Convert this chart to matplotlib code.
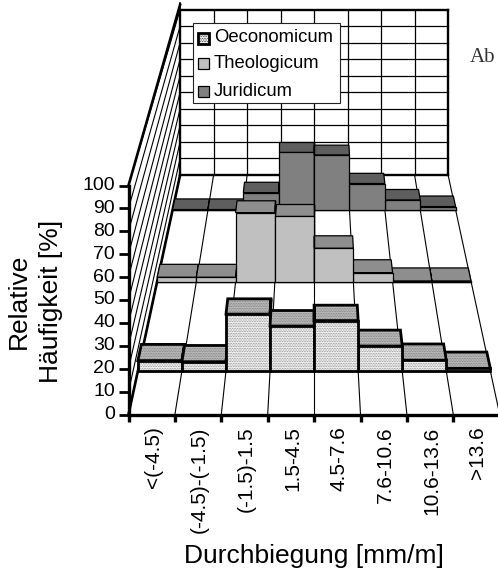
import matplotlib
matplotlib.use("Agg")
import matplotlib.pyplot as plt
from matplotlib.patches import Polygon, Rectangle

plt.rcParams['font.family'] = ['Liberation Sans', 'DejaVu Sans']
plt.rcParams['hatch.linewidth'] = 0.35

categories = ["<(-4.5)", "(-4.5)-(-1.5)", "(-1.5)-1.5", "1.5-4.5",
              "4.5-7.6", "7.6-10.6", "10.6-13.6", ">13.6"]
oeconomicum = [4.8, 4.3, 26.2, 20.7, 23.2, 11.5, 5.0, 1.2]
theologicum = [2.2, 2.2, 35.6, 33.9, 17.2, 4.6, 0.3, 0.3]
juridicum = [0.2, 0.2, 9.9, 33.2, 31.5, 15.1, 5.7, 1.9]
y_ticks = list(range(0, 101, 10))

# perspective, fitted to the picture (pixel units)
X_MID, Y_FRONT, HORIZON = 314.1, 414.5, -447.0
CELL, UNIT, PERSP = 46.4, 2.29, 0.385
BAR_DEPTH = 0.056


def proj(i, h, d):
    f = 1 / (1 + PERSP * d)
    x = X_MID + (i - 4) * CELL * f
    y = HORIZON + (Y_FRONT - HORIZON) * f - h * UNIT * f
    return (x, y)


fig = plt.figure(figsize=(4.98, 5.72), dpi=100)
ax = fig.add_axes([0, 0, 1, 1])
ax.set_xlim(0, 498)
ax.set_ylim(572, 0)
ax.axis('off')


def line(a, b, lw=0.9, z=0.5):
    ax.plot([a[0], b[0]], [a[1], b[1]], color='black', lw=lw, solid_capstyle='projecting', zorder=z)


# back wall and left wall
for t in y_ticks:
    line(proj(0, t, 1), proj(8, t, 1), 1.7 if t in (0, 100) else 0.9)
    line(proj(0, t, 0), proj(0, t, 1), 0.8)
for i in range(9):
    line(proj(i, 0, 1), proj(i, 100, 1), 1.7 if i in (0, 8) else 0.9)
    line(proj(i, 0, 0), proj(i, 0, 1), 0.8)
line(proj(0, 0, 0), proj(0, 0, 1), 1.9)
line(proj(0, 100, 0), proj(0, 103, 1), 1.9)
line(proj(0, 100, 1), proj(0, 104, 1), 1.2)

series = [
    ("Juridicum", juridicum, 0.809, '#808080', '#5e5e5e', '#6e6e6e', 0.9, None),
    ("Theologicum", theologicum, 0.474, '#c0c0c0', '#8e8e8e', '#a0a0a0', 0.9, None),
    ("Oeconomicum", oeconomicum, 0.138, '#f0f0f0', '#b8b8b8', '#9a9a9a', 2.0, '..........'),
]


def face(pts, color, lw, hatch):
    if hatch:
        ax.add_patch(Polygon(pts, facecolor=color, edgecolor='#707070', hatch=hatch, lw=0))
        ax.add_patch(Polygon(pts, fill=False, edgecolor='black', lw=lw, joinstyle='miter'))
    else:
        ax.add_patch(Polygon(pts, facecolor=color, edgecolor='black', lw=lw, joinstyle='miter'))


for name, vals, d0, c_front, c_top, c_side, lw, hatch in series:
    d1 = d0 + BAR_DEPTH
    line(proj(0, 0, d0), proj(8, 0, d0), 1.0, 0.6)
    # outer bars first so the ones near the middle overlap them
    for k in sorted(range(8), key=lambda n: -abs(n + 0.5 - 4)):
        h = vals[k]
        face([proj(k, h, d0), proj(k + 1, h, d0), proj(k + 1, h, d1), proj(k, h, d1)], c_top, lw, hatch)
        edge = k + 1 if k < 4 else k
        face([proj(edge, 0, d0), proj(edge, h, d0), proj(edge, h, d1), proj(edge, 0, d1)], c_side, lw, None)
        face([proj(k, 0, d0), proj(k + 1, 0, d0), proj(k + 1, h, d0), proj(k, h, d0)], c_front, lw, hatch)

# front axes and ticks
line(proj(0, 0, 0), proj(8.2, 0, 0), 2.4, 3)
line(proj(0, 0, 0), proj(0, 100, 0), 2.4, 3)
for t in y_ticks:
    x, y = proj(0, t, 0)
    ax.plot([x - 10, x], [y, y], color='black', lw=2.0, solid_capstyle='butt')
    ax.text(x - 13.5, y, str(t), ha='right', va='center', fontsize=14)
for i in range(9):
    x, y = proj(i, 0, 0)
    ax.plot([x, x], [y, y + 7], color='black', lw=2.4, solid_capstyle='butt')
for i, c in enumerate(categories):
    x, y = proj(i + 0.5, 0, 0)
    ax.text(x + 1.5, y + 12, c, rotation=90, ha='center', va='top', fontsize=15)

ax.text(35, 301, "Relative\nHäufigkeit [%]", rotation=90, ha='center', va='center',
        fontsize=19, linespacing=1.45, multialignment='center')
ax.text(313.5, 556, "Durchbiegung [mm/m]", ha='center', va='center', fontsize=19)
ax.text(470, 57, "Ab", ha='left', va='center', fontsize=15, family='Liberation Serif', color='#333333')

# legend
ax.add_patch(Rectangle((192.7, 23.3), 147.3, 79.4, facecolor='white', edgecolor='#222222', lw=0.8, zorder=5))
legend_rows = [(series[2], 38), (series[1], 63), (series[0], 91)]
for (name, vals, d0, c_front, c_top, c_side, lw, hatch), yy in legend_rows:
    ax.add_patch(Rectangle((197.5, yy - 5.5), 11, 11, facecolor=c_front,
                           edgecolor='black', lw=lw, hatch=hatch, zorder=6))
    ax.text(214, yy, name, ha='left', va='center', fontsize=13.3, zorder=6)

fig.savefig("out.png", dpi=100)
